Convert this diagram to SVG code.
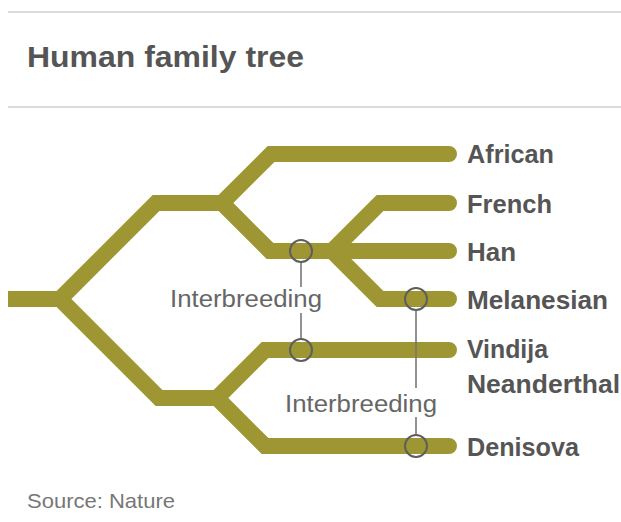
<svg xmlns="http://www.w3.org/2000/svg" width="621" height="522" viewBox="0 0 621 522">
  <style>
    .rule { stroke: #cfcfcf; stroke-width: 1.5; fill: none; }
    .title { font-family: "Liberation Sans", Arial, sans-serif; font-weight: bold; font-size: 29px; fill: #555; }
    .branch { stroke: #9e9632; stroke-width: 16; fill: none; stroke-linecap: round; stroke-linejoin: miter; }
    .stem { stroke: #9e9632; stroke-width: 16; fill: none; stroke-linecap: butt; }
    .label { font-family: "Liberation Sans", Arial, sans-serif; font-weight: bold; font-size: 25px; fill: #555; }
    .note { font-family: "Liberation Sans", Arial, sans-serif; font-size: 23px; fill: #666; }
    .link { stroke: #777; stroke-width: 1.6; fill: none; }
    .ring { stroke: #5e5e5e; stroke-width: 2; fill: none; }
    .source { font-family: "Liberation Sans", Arial, sans-serif; font-size: 21px; fill: #777; }
  </style>

  <rect width="621" height="522" fill="#fff"/>

  <!-- header -->
  <line class="rule" x1="8" y1="12" x2="621" y2="12"/>
  <text class="title" x="27" y="67" textLength="277" lengthAdjust="spacingAndGlyphs">Human family tree</text>
  <line class="rule" x1="8" y1="107" x2="621" y2="107"/>

  <!-- tree branches -->
  <g id="connectors">
    <path class="stem" d="M8,299 H62"/>
    <path class="branch" d="M60,299 L156,203 H222 L271,154 H449"/>
    <path class="branch" d="M222,203 L270,251 H449"/>
    <path class="branch" d="M332,251 L380,203 H449"/>
    <path class="branch" d="M332,251 L380,299 H449"/>
    <path class="branch" d="M60,299 L159,398 H217 L265,350 H449"/>
    <path class="branch" d="M217,398 L265,446 H449"/>
  </g>

  <!-- leaf labels -->
  <g id="african"><text class="label" x="467" y="163" textLength="87" lengthAdjust="spacingAndGlyphs">African</text></g>
  <g id="french"><text class="label" x="467" y="213" textLength="85" lengthAdjust="spacingAndGlyphs">French</text></g>
  <g id="han"><text class="label" x="467" y="261" textLength="49" lengthAdjust="spacingAndGlyphs">Han</text></g>
  <g id="melanesian"><text class="label" x="467" y="309" textLength="141" lengthAdjust="spacingAndGlyphs">Melanesian</text></g>
  <g id="vindija">
    <text class="label" x="467" y="358" textLength="81" lengthAdjust="spacingAndGlyphs">Vindija</text>
    <text class="label" x="467" y="393" textLength="153" lengthAdjust="spacingAndGlyphs">Neanderthal</text>
  </g>
  <g id="denisova"><text class="label" x="467" y="456" textLength="112" lengthAdjust="spacingAndGlyphs">Denisova</text></g>

  <!-- interbreeding: Han / Vindija Neanderthal -->
  <g id="interbreeding-neanderthal">
    <line class="link" x1="301" y1="262" x2="301" y2="287"/>
    <line class="link" x1="301" y1="313" x2="301" y2="339"/>
    <circle class="ring" cx="301" cy="251" r="11"/>
    <circle class="ring" cx="301" cy="350" r="11"/>
    <text class="note" x="170" y="307" textLength="152" lengthAdjust="spacingAndGlyphs">Interbreeding</text>
  </g>

  <!-- interbreeding: Melanesian / Denisova -->
  <g id="interbreeding-denisova">
    <line class="link" x1="416" y1="310" x2="416" y2="388"/>
    <line class="link" x1="416" y1="417" x2="416" y2="435"/>
    <circle class="ring" cx="416" cy="299" r="11"/>
    <circle class="ring" cx="416" cy="446" r="11"/>
    <text class="note" x="285" y="412" textLength="152" lengthAdjust="spacingAndGlyphs">Interbreeding</text>
  </g>

  <text class="source" x="27" y="508" textLength="148" lengthAdjust="spacingAndGlyphs">Source: Nature</text>
</svg>
